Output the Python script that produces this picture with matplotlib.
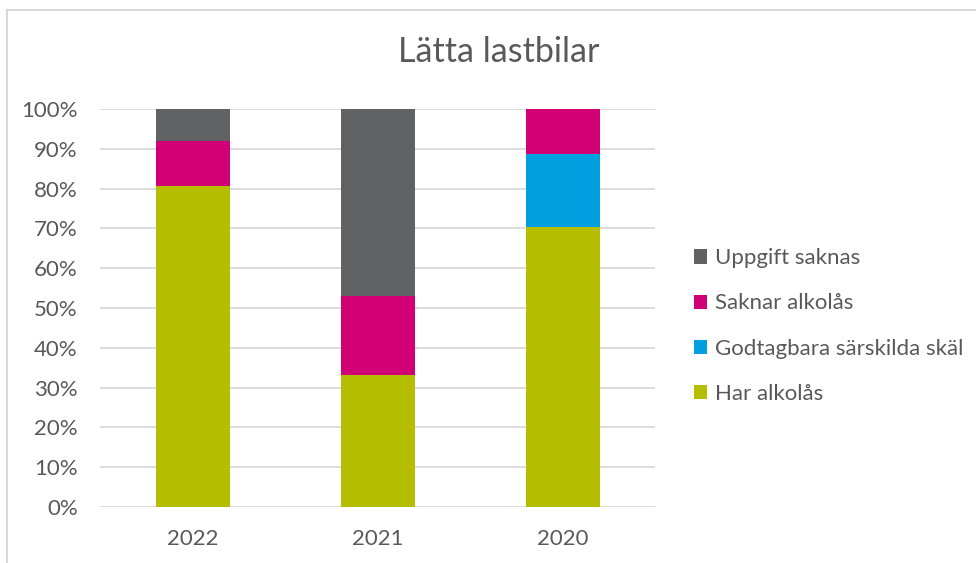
import matplotlib
matplotlib.use("Agg")
import matplotlib.pyplot as plt
from matplotlib.patches import Patch
from matplotlib.lines import Line2D
import numpy as np

categories = ["2022", "2021", "2020"]
har_alkolas = [80.7, 33.2, 70.4]
godtagbara = [0.0, 0.0, 18.4]
saknar_alkolas = [11.3, 19.7, 11.2]
uppgift_saknas = [8.0, 47.1, 0.0]

series = [
    ("Har alkolås", har_alkolas, "#B5BD00"),
    ("Godtagbara särskilda skäl", godtagbara, "#009FDF"),
    ("Saknar alkolås", saknar_alkolas, "#D10074"),
    ("Uppgift saknas", uppgift_saknas, "#616264"),
]

plt.rcParams['font.family'] = ['Lato', 'DejaVu Sans']
text_color = "#595959"

fig = plt.figure(figsize=(9.76, 5.63), dpi=100)
ax = fig.add_axes([100/976, 1-507/563, 555/976, (507-109)/563])

x = np.arange(len(categories))
bottom = np.zeros(len(categories))
handles = []
for name, vals, col in series:
    vals = np.array(vals)
    ax.bar(x, vals, 0.4, bottom=bottom, color=col, zorder=3)
    bottom += vals
    handles.append(Patch(facecolor=col, label=name))

ax.set_xlim(-0.5, 2.5)
ax.set_ylim(0, 100)
ax.set_yticks(np.arange(0, 101, 10))
ax.set_yticklabels([f"{v}%" for v in range(0, 101, 10)])
ax.set_xticks(x)
ax.set_xticklabels(categories)
ax.grid(axis='y', color="#d9d9d9", linewidth=1.3, zorder=0)
for s in ax.spines.values():
    s.set_visible(False)
ax.tick_params(axis='both', length=0, colors=text_color, labelsize=16)
ax.tick_params(axis='y', pad=16)
ax.tick_params(axis='x', pad=16)

fig.text(499/976, 1-52/563, "Lätta lastbilar", ha='center', va='center',
         fontsize=24.5, color=text_color)

leg = fig.legend(handles=handles[::-1], loc='center left',
                 bbox_to_anchor=(674/976, 1-326/563), frameon=False,
                 fontsize=16, labelspacing=1.13, handlelength=0.6,
                 handleheight=0.6, handletextpad=0.35, labelcolor=text_color)

# chart border (left and top)
fig.add_artist(Line2D([7/976, 7/976], [0, 1-10/563], transform=fig.transFigure,
                      color="#d9d9d9", linewidth=1.5))
fig.add_artist(Line2D([7/976, 1], [1-10/563, 1-10/563], transform=fig.transFigure,
                      color="#d9d9d9", linewidth=1.5))

fig.savefig("out.png", dpi=100)
